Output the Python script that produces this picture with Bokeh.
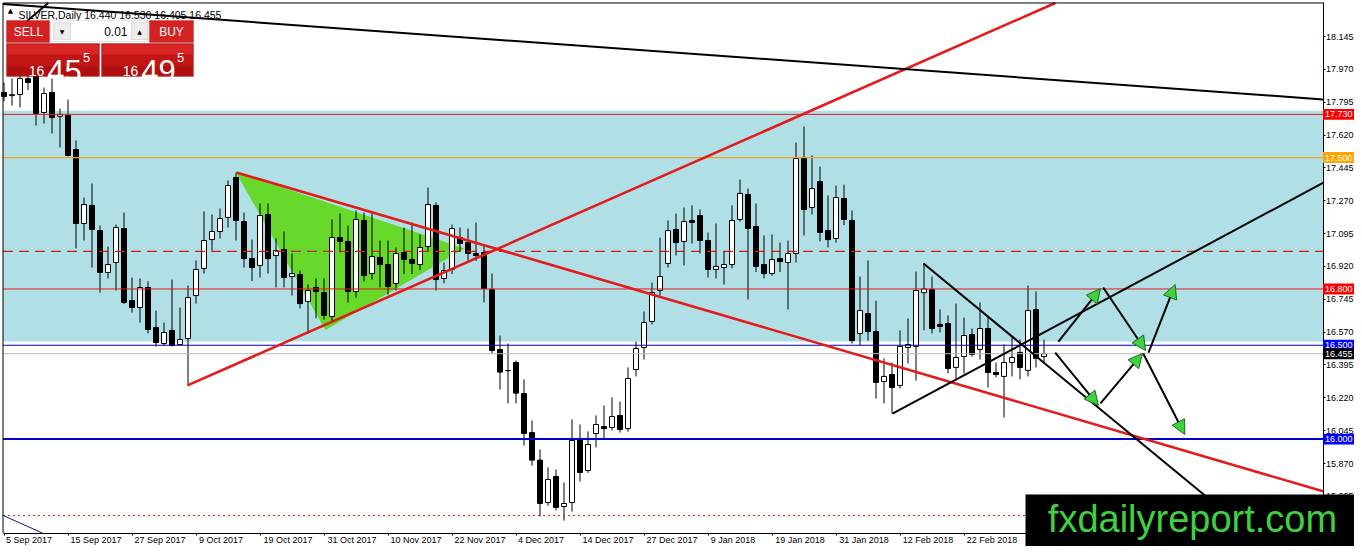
from bokeh.plotting import figure
from bokeh.models import (Range1d, FixedTicker, BoxAnnotation, Label, Arrow,
                          NormalHead, PrintfTickFormatter, ColumnDataSource)
from bokeh.embed import file_html
from bokeh.resources import INLINE

# ---------------- data (daily bars, index 0 = 5 Sep 2017) ----------------
opens = [17.847, 17.830, 17.836, 17.920, 17.950, 17.740, 17.847, 17.720, 17.724, 17.543,
         17.149, 17.245, 17.111, 16.888, 16.941, 17.122, 16.738, 16.701, 16.808, 16.595,
         16.509, 16.579, 16.504, 16.536, 16.765, 16.909, 17.063, 17.106, 17.181, 17.394,
         17.159, 16.962, 16.925, 17.197, 16.978, 17.010, 16.866, 16.877, 16.733, 16.808,
         16.781, 16.653, 17.074, 17.053, 16.786, 17.165, 16.882, 16.968, 16.930, 16.829,
         16.994, 16.957, 16.930, 17.026, 17.245, 16.856, 16.904, 17.074, 17.047, 16.989,
         16.994, 16.797, 16.477, 16.365, 16.408, 16.243, 16.035, 15.888, 15.662, 15.801,
         15.641, 15.662, 16.003, 15.833, 16.030, 16.067, 16.062, 16.126, 16.056, 16.371,
         16.488, 16.627, 16.792, 16.936, 17.117, 17.053, 17.165, 17.191, 17.058, 16.904,
         16.914, 16.930, 17.170, 17.303, 17.133, 16.930, 16.882, 16.962, 16.941, 16.989,
         17.500, 17.234, 17.372, 17.111, 17.069, 17.282, 17.165, 16.563, 16.669, 16.573,
         16.307, 16.344, 16.286, 16.488, 16.494, 16.780, 16.797, 16.611, 16.616, 16.382,
         16.440, 16.557, 16.478, 16.589, 16.355, 16.334, 16.408, 16.462, 16.366, 16.690,
         16.440]
highs = [17.900, 17.921, 17.960, 18.000, 18.020, 17.873, 17.921, 17.761, 17.809, 17.591,
         17.287, 17.362, 17.138, 17.026, 17.143, 17.207, 16.861, 16.856, 16.840, 16.685,
         16.621, 16.850, 16.701, 16.818, 16.952, 17.213, 17.197, 17.229, 17.378, 17.420,
         17.207, 17.063, 17.255, 17.255, 17.069, 17.106, 16.989, 16.898, 16.824, 16.856,
         16.856, 17.170, 17.202, 17.138, 17.218, 17.207, 17.202, 17.058, 17.058, 17.021,
         17.127, 17.154, 17.090, 17.340, 17.261, 16.941, 17.143, 17.127, 17.122, 17.154,
         17.031, 16.882, 16.552, 16.509, 16.419, 16.318, 16.099, 15.945, 15.849, 15.838,
         15.769, 16.105, 16.078, 16.041, 16.126, 16.179, 16.222, 16.200, 16.382, 16.520,
         16.680, 16.834, 17.074, 17.165, 17.202, 17.234, 17.245, 17.223, 17.101, 17.149,
         17.000, 17.245, 17.383, 17.335, 17.255, 17.085, 17.090, 17.047, 17.058, 17.580,
         17.666, 17.511, 17.452, 17.298, 17.351, 17.356, 17.218, 16.866, 16.952, 16.738,
         16.430, 16.408, 16.579, 16.643, 16.893, 16.936, 16.866, 16.691, 16.659, 16.722,
         16.648, 16.589, 16.728, 16.648, 16.408, 16.504, 16.541, 16.531, 16.818, 16.786,
         16.530]
lows = [17.800, 17.777, 17.767, 17.860, 17.671, 17.681, 17.628, 17.554, 17.506, 17.016,
        17.058, 16.914, 16.781, 16.856, 16.792, 16.720, 16.674, 16.621, 16.563, 16.493,
        16.499, 16.493, 16.499, 16.286, 16.722, 16.882, 17.005, 17.069, 17.127, 17.058,
        16.914, 16.842, 16.861, 16.882, 16.808, 16.808, 16.765, 16.696, 16.563, 16.643,
        16.637, 16.621, 16.994, 16.728, 16.754, 16.840, 16.850, 16.808, 16.770, 16.792,
        16.880, 16.880, 16.900, 17.000, 16.792, 16.830, 16.880, 17.000, 16.950, 16.950,
        16.728, 16.456, 16.264, 16.190, 16.190, 15.966, 15.859, 15.588, 15.646, 15.620,
        15.566, 15.614, 15.774, 15.820, 15.956, 16.003, 16.046, 16.035, 16.040, 16.334,
        16.424, 16.611, 16.765, 16.914, 16.978, 16.925, 17.042, 16.989, 16.861, 16.856,
        16.824, 16.910, 17.159, 16.744, 16.890, 16.856, 16.870, 16.890, 16.691, 16.941,
        17.085, 17.197, 17.053, 17.021, 17.047, 17.140, 16.509, 16.499, 16.525, 16.216,
        16.190, 16.136, 16.270, 16.403, 16.312, 16.580, 16.563, 16.568, 16.350, 16.323,
        16.350, 16.440, 16.424, 16.275, 16.330, 16.115, 16.334, 16.318, 16.334, 16.382,
        16.405]
closes = [17.825, 17.835, 17.921, 17.900, 17.735, 17.841, 17.713, 17.730, 17.511, 17.149,
          17.250, 17.117, 16.888, 16.930, 17.127, 16.728, 16.701, 16.808, 16.584, 16.515,
          16.568, 16.499, 16.531, 16.754, 16.904, 17.058, 17.106, 17.175, 17.351, 17.165,
          16.962, 16.914, 17.191, 16.962, 17.005, 16.861, 16.882, 16.722, 16.792, 16.786,
          16.659, 17.074, 17.053, 16.786, 17.170, 16.872, 16.973, 16.930, 16.813, 16.989,
          16.957, 16.936, 17.021, 17.250, 16.850, 16.898, 17.122, 17.042, 16.989, 16.978,
          16.802, 16.472, 16.357, 16.365, 16.245, 16.030, 15.888, 15.657, 15.785, 15.636,
          15.657, 15.993, 15.822, 15.971, 16.078, 16.056, 16.120, 16.051, 16.323, 16.483,
          16.621, 16.781, 16.866, 17.111, 17.047, 17.159, 17.154, 17.058, 16.904, 16.920,
          16.930, 17.165, 17.309, 17.122, 16.920, 16.882, 16.957, 16.946, 16.989, 17.495,
          17.223, 17.335, 17.101, 17.063, 17.287, 17.170, 16.525, 16.685, 16.573, 16.302,
          16.334, 16.275, 16.494, 16.504, 16.792, 16.800, 16.589, 16.600, 16.376, 16.435,
          16.552, 16.451, 16.589, 16.355, 16.344, 16.408, 16.435, 16.382, 16.685, 16.430,
          16.455]
bars = list(range(len(opens)))

tick_bars = [0, 8, 16, 24, 32, 40, 48, 56, 64, 72, 80, 88, 96, 104, 112, 120]
tick_labels = ["5 Sep 2017", "15 Sep 2017", "27 Sep 2017", "9 Oct 2017", "19 Oct 2017",
               "31 Oct 2017", "10 Nov 2017", "22 Nov 2017", "4 Dec 2017", "14 Dec 2017",
               "27 Dec 2017", "9 Jan 2018", "19 Jan 2018", "31 Jan 2018", "12 Feb 2018",
               "22 Feb 2018"]
price_ticks = [18.145, 17.970, 17.795, 17.620, 17.445, 17.270, 17.095, 16.920, 16.745,
               16.570, 16.395, 16.220, 16.045, 15.870, 15.695]

zone_bottom, zone_top = 16.52, 17.75
line_levels = [17.73, 17.50, 17.00, 16.80, 16.50, 16.455, 16.00, 15.593]
tag_levels = [17.730, 17.500, 16.800, 16.500, 16.455, 16.000]

# drawn objects, in (bar index, price)
red_x0 = [22.94, 29.06]
red_y0 = [16.286, 17.420]
red_x1 = [131.41, 164.875]
red_y1 = [18.3235, 15.722]
blk_x0 = [-0.125, 114.94, 111.06, 1.0]
blk_y0 = [18.318, 16.936, 16.136, 18.160]
blk_x1 = [164.875, 155.0, 164.875, 5.54]
blk_y1 = [17.810, 15.528, 17.365, 18.3235]
blue_x = [-0.1, 4.8]
blue_y = [15.593, 15.4997]
tri_x = [29.06, 40.19, 57.44]
tri_y = [17.420, 16.584, 17.015]
arrow_x0 = [131.8, 137.4, 143.06, 131.4, 137.06, 142.4]
arrow_y0 = [16.520, 16.808, 16.461, 16.461, 16.190, 16.456]
arrow_x1 = [137.06, 142.7, 146.4, 136.8, 142.3, 147.6]
arrow_y1 = [16.802, 16.472, 16.824, 16.179, 16.456, 16.025]

# ---------------- layout / styles ----------------
W, H = 1354, 546
X_LEFT, X_AXIS = -0.125, 164.875      # chart borders (left edge, price-scale line)
Y_TOP, Y_AXIS = 18.3235, 15.4997      # chart borders (top edge, time-scale line)
RED = "#e41b1b"
FONT = "Liberation Sans"

p = figure(width=W, height=H, title=None,
           x_range=Range1d(-0.4375, -0.4375 + W / 8),
           y_range=Range1d(18.3368 - H / 187.7, 18.3368),
           y_axis_location="right", output_backend="svg", toolbar_location=None,
           min_border=0, min_border_left=0, min_border_right=0,
           min_border_top=0, min_border_bottom=0)
p.xgrid.visible = False
p.ygrid.visible = False
p.outline_line_color = None
p.background_fill_color = "white"
p.border_fill_color = "white"

p.add_layout(BoxAnnotation(left=X_LEFT, right=X_AXIS, bottom=zone_bottom, top=zone_top,
                           fill_color="#b0e0e6", fill_alpha=1, line_color=None,
                           level="underlay"))
p.patch(tri_x, tri_y, fill_color="#66d92a", line_color="#66d92a", line_width=1)

src = ColumnDataSource(dict(
    x=bars, o=opens, h=highs, l=lows, c=closes,
    top=[max(a, b) for a, b in zip(opens, closes)],
    bottom=[min(a, b) for a, b in zip(opens, closes)],
    fill=["white" if c >= o else "black" for o, c in zip(opens, closes)]))
p.segment(x0="x", y0="h", x1="x", y1="l", source=src, line_color="black", line_width=1)
p.vbar(x="x", width=0.625, top="top", bottom="bottom", fill_color="fill",
       line_color="black", line_width=1, source=src)

lcolors = [RED, "#f0a028", "#c02020", RED, "#0000b0", "#b8b8b8", "#0000cc", RED]
lwidths = [1, 1.3, 1.3, 1, 1.2, 1, 2, 1]
ldash = ["solid", "solid", "10 6", "solid", "solid", "solid", "solid", "2 3"]
for lv, lc, lw, ld in zip(line_levels, lcolors, lwidths, ldash):
    p.segment(x0=[X_LEFT], y0=[lv], x1=[X_AXIS], y1=[lv],
              line_color=lc, line_width=lw, line_dash=ld)

p.segment(x0=red_x0, y0=red_y0, x1=red_x1, y1=red_y1, line_color=RED, line_width=2.6)
p.segment(x0=blk_x0, y0=blk_y0, x1=blk_x1, y1=blk_y1, line_color="black", line_width=2)
p.line(blue_x, blue_y, line_color="#1010a0", line_width=1)

asrc = ColumnDataSource(dict(x0=arrow_x0, y0=arrow_y0, x1=arrow_x1, y1=arrow_y1))
p.add_layout(Arrow(end=NormalHead(size=14, fill_color="#3fd13f", line_color="#1c6a1c",
                                  line_width=1),
                   x_start="x0", y_start="y0", x_end="x1", y_end="y1", source=asrc,
                   line_color="black", line_width=2))

# chart border (left & top edges)
p.segment(x0=[X_LEFT, X_LEFT], y0=[Y_AXIS, Y_TOP], x1=[X_LEFT, X_AXIS], y1=[Y_TOP, Y_TOP],
          line_color="black", line_width=1)

# axes drawn at the chart's own edges
ya = p.yaxis[0]
ya.fixed_location = X_AXIS
ya.bounds = (Y_AXIS, Y_TOP)
ya.ticker = FixedTicker(ticks=price_ticks)
ya.formatter = PrintfTickFormatter(format="%.3f")
ya.major_tick_out = 2
ya.major_tick_in = 0
ya.minor_tick_out = 0
ya.major_label_standoff = 1
ya.major_label_text_font = FONT
ya.major_label_text_font_size = "9px"
ya.major_label_text_color = "black"
ya.axis_line_color = "black"

centers = [b + round(1 + 2.44 * len(t)) / 8 for b, t in zip(tick_bars, tick_labels)]
xa = p.xaxis[0]
xa.fixed_location = Y_AXIS
xa.bounds = (X_LEFT, X_AXIS)
xa.ticker = FixedTicker(ticks=centers, minor_ticks=tick_bars)
xa.major_label_overrides = {c: t for c, t in zip(centers, tick_labels)}
xa.major_tick_out = 0
xa.major_tick_in = 0
xa.major_tick_line_color = None
xa.minor_tick_out = 2
xa.minor_tick_in = 0
xa.minor_tick_line_color = "black"
xa.major_label_standoff = 0
xa.major_label_text_font = FONT
xa.major_label_text_font_size = "9px"
xa.major_label_text_color = "black"
xa.axis_line_color = "black"

# price tags on the right scale
tag_colors = ["#ff0000", "#ffa500", "#ff0000", "#0000ff", "#000000", "#0000ff"]
for lv, tc in zip(tag_levels, tag_colors):
    p.add_layout(BoxAnnotation(left=X_AXIS, right=X_AXIS + 5, top=lv + 0.029, bottom=lv - 0.029,
                               fill_color=tc, fill_alpha=1, line_color=None, level="overlay"))
for lv in tag_levels:
    p.add_layout(Label(x=X_AXIS, y=lv, x_offset=2, text="%.3f" % lv,
                       text_font=FONT, text_font_size="9px", text_color="white",
                       text_baseline="middle", text_align="left", level="overlay"))


# ---------------- overlays (pixel positions on the page) ----------------
def sx(xp):
    return xp


def sy(yp):
    return H - yp


def ui_box(x0, y0, x1, y1, fill, line=None):
    p.add_layout(BoxAnnotation(left=sx(x0), right=sx(x1), top=sy(y0), bottom=sy(y1),
                               left_units="screen", right_units="screen",
                               top_units="screen", bottom_units="screen",
                               fill_color=fill, fill_alpha=1,
                               line_color=line, line_width=1, level="overlay"))


def ui_text(x, y, text, size, color="white", align="center", baseline="middle", font=FONT):
    p.add_layout(Label(x=sx(x), y=sy(y), x_units="screen", y_units="screen", text=text,
                       text_font=font, text_font_size=size, text_color=color,
                       text_align=align, text_baseline=baseline, level="overlay"))


# watermark
ui_box(1025, 494, 1400, 600, "black")
ui_text(1192, 518, "fxdailyreport.com", "38px", color="#3fd13f", baseline="middle")

# trade panel
ui_text(10, 10, "\u25b2", "7px", color="black", font="DejaVu Sans")
ui_text(18, 14, "SILVER,Daily  %.3f %.3f %.3f %.3f" % (opens[-1], highs[-1], lows[-1], closes[-1]),
        "10.5px", color="black", align="left", baseline="alphabetic")
ui_box(6, 20, 49, 42, "#d42222", "#9a0c0c")
ui_text(28, 31, "SELL", "12px")
ui_box(50, 20, 148, 41, "white", "#a8a8a8")
ui_box(53, 22, 70, 39, "#ececec", "#b0b0b0")
ui_text(61.5, 31, "\u25bc", "6px", color="black", font="DejaVu Sans")
ui_box(131, 22, 147, 39, "#ececec", "#b0b0b0")
ui_text(139, 31, "\u25b2", "6px", color="black", font="DejaVu Sans")
ui_text(127, 31, "0.01", "12px", color="black", align="right")
ui_box(149, 20, 193, 42, "#d42222", "#9a0c0c")
ui_text(171, 31, "BUY", "12px")
for x0, x1 in [(6, 99), (101, 193)]:
    ui_box(x0, 43, x1, 76, "#c21616", "#8a0a0a")
    ui_box(x0 + 1, 44, x1 - 1, 54, "#d92626")
    ui_box(x0 + 1, 66, x1 - 1, 75, "#b00f0f")
for cx, big in [(0, "45"), (94, "49")]:
    ui_text(36 + cx, 70.5, "16", "14px", baseline="alphabetic")
    ui_text(64 + cx, 70.5, big, "31px", baseline="alphabetic")
    ui_text(86 + cx, 56.5, "5", "13px", baseline="alphabetic")

open("out.html", "w").write(file_html(p, INLINE))
